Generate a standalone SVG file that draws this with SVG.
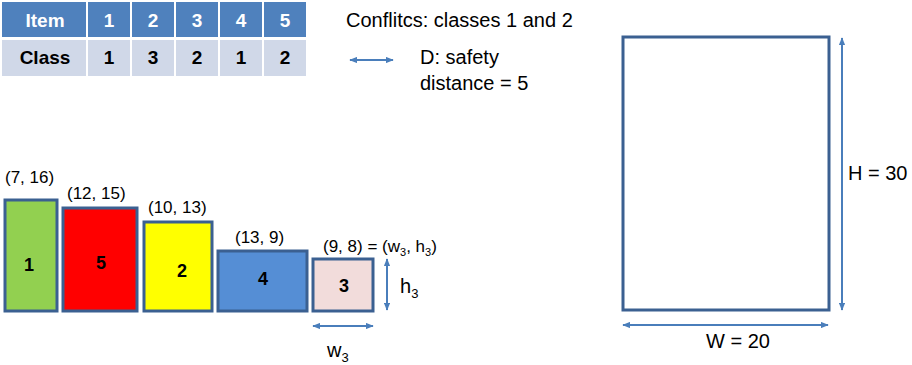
<svg xmlns="http://www.w3.org/2000/svg" width="912" height="365" viewBox="0 0 912 365">
<style>
.hd{fill:#4F81BD}
.rw{fill:#D0D8E8}
.th{font-family:"Liberation Sans",Arial,sans-serif;font-weight:bold;font-size:19px;fill:#fff;text-anchor:middle}
.tc{font-family:"Liberation Sans",Arial,sans-serif;font-weight:bold;font-size:19px;fill:#000;text-anchor:middle}
.txt{font-family:"Liberation Sans",Arial,sans-serif;font-size:20px;fill:#000}
.lbl{font-family:"Liberation Sans",Arial,sans-serif;font-size:17px;fill:#000}
.num{font-family:"Liberation Sans",Arial,sans-serif;font-weight:bold;font-size:18px;fill:#000;text-anchor:middle}
.box{stroke:#3B6091;stroke-width:3}
.dim{stroke:#4A7EBB;stroke-width:2;fill:none;marker-start:url(#ah);marker-end:url(#ah)}
</style>
<defs>
<marker id="ah" viewBox="0 0 10 8" refX="9" refY="4" markerWidth="8" markerHeight="6.4" orient="auto-start-reverse" markerUnits="userSpaceOnUse">
<path d="M0,0 L10,4 L0,8 z" fill="#4A7EBB"/>
</marker>
</defs>
<rect width="912" height="365" fill="#fff"/>
<g id="table">
<rect class="hd" x="2" y="2" width="84" height="35"/>
<rect class="hd" x="88" y="2" width="42" height="35"/>
<rect class="hd" x="132" y="2" width="42" height="35"/>
<rect class="hd" x="176" y="2" width="42" height="35"/>
<rect class="hd" x="220" y="2" width="42" height="35"/>
<rect class="hd" x="264" y="2" width="42" height="35"/>
<rect class="rw" x="2" y="40" width="84" height="36"/>
<rect class="rw" x="88" y="40" width="42" height="36"/>
<rect class="rw" x="132" y="40" width="42" height="36"/>
<rect class="rw" x="176" y="40" width="42" height="36"/>
<rect class="rw" x="220" y="40" width="42" height="36"/>
<rect class="rw" x="264" y="40" width="42" height="36"/>
<text class="th" x="45" y="27">Item</text>
<text class="th" x="109" y="27">1</text>
<text class="th" x="153" y="27">2</text>
<text class="th" x="197" y="27">3</text>
<text class="th" x="241" y="27">4</text>
<text class="th" x="285" y="27">5</text>
<text class="tc" x="45" y="64">Class</text>
<text class="tc" x="109" y="64">1</text>
<text class="tc" x="153" y="64">3</text>
<text class="tc" x="197" y="64">2</text>
<text class="tc" x="241" y="64">1</text>
<text class="tc" x="285" y="64">2</text>
</g>
<g id="legend">
<text class="txt" x="346" y="27" font-size="20.4">Conflitcs: classes 1 and 2</text>
<text class="txt" x="420" y="64">D: safety</text>
<text class="txt" x="420" y="90">distance = 5</text>
</g>
<g id="item1"><rect class="box" x="5" y="200" width="52" height="111" fill="#92D050"/><text class="num" x="29" y="271">1</text><text class="lbl" x="5" y="183">(7, 16)</text></g>
<g id="item5"><rect class="box" x="63" y="208" width="74" height="103" fill="#FF0000"/><text class="num" x="101" y="269">5</text><text class="lbl" x="67" y="199">(12, 15)</text></g>
<g id="item2"><rect class="box" x="144" y="222" width="68" height="89" fill="#FFFF00"/><text class="num" x="182" y="277">2</text><text class="lbl" x="148" y="213">(10, 13)</text></g>
<g id="item4"><rect class="box" x="218" y="251" width="89" height="60" fill="#558ED5"/><text class="num" x="263" y="285">4</text><text class="lbl" x="235" y="243">(13, 9)</text></g>
<g id="item3"><rect class="box" x="313" y="259" width="60" height="52" fill="#F2DCDB"/><text class="num" x="344" y="292">3</text><text class="lbl" x="323" y="252" font-size="16">(9, 8) = (w<tspan font-size="11" dy="4">3</tspan><tspan dy="-4">, h</tspan><tspan font-size="11" dy="4">3</tspan><tspan dy="-4">)</tspan></text></g>
<g id="container"><rect x="623" y="37" width="206" height="273" fill="none" stroke="#3B6091" stroke-width="3"/></g>
<g id="connectors">
<line class="dim" x1="350" y1="60" x2="393" y2="60"/>
<line class="dim" x1="387" y1="259" x2="387" y2="310"/>
<line class="dim" x1="313" y1="326" x2="373" y2="326"/>
<line class="dim" x1="842" y1="38" x2="842" y2="310"/>
<line class="dim" x1="623" y1="325" x2="828" y2="325"/>
</g>
<g id="dimlabels">
<text class="txt" x="400" y="293">h<tspan font-size="13" dy="5">3</tspan></text>
<text class="txt" x="327" y="357">w<tspan font-size="13" dy="5">3</tspan></text>
<text class="txt" x="848" y="180">H = 30</text>
<text class="txt" x="706" y="348">W = 20</text>
</g>
</svg>
